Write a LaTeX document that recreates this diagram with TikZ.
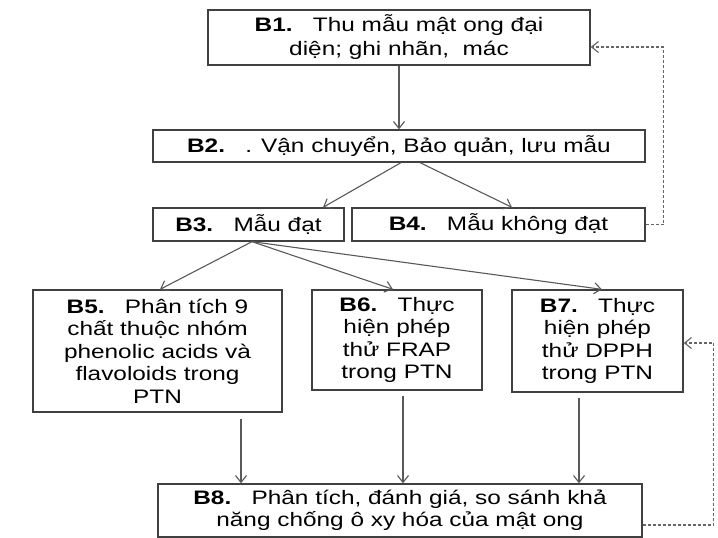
\documentclass[tikz,border=0pt]{standalone}
\usepackage{fontspec}
\setmainfont{Liberation Sans}[FakeStretch=1.25]
\usetikzlibrary{arrows.meta}

\tikzset{
  buoc/.style={draw=black!75, line width=1.3pt, fill=white, inner sep=0pt,
    align=center, font=\fontsize{19.5}{22.5}\selectfont},
  muiten/.style={draw=black!65, line width=1.1pt,
    -{Straight Barb[length=7pt, width=11pt, line width=1.1pt]}},
  quaylai/.style={muiten, draw=black!60, dashed, dash pattern=on 3pt off 2pt, line width=1.1pt}
}
\newcommand{\bx}[1]{\textbf{#1}}

\begin{document}
\begin{tikzpicture}[x=1pt, y=-1pt, line cap=butt, line join=miter]

\useasboundingbox (0,0) rectangle (718,538);

% các bước
\node[buoc, minimum width=382pt, minimum height=55pt,
  font=\fontsize{19.5}{24}\selectfont] (b1) at (399,37.5)
  {\bx{B1.}\ \ \ Thu mẫu mật ong đại\\diện; ghi nhãn,\ \ mác};
\node[buoc, minimum width=492pt, minimum height=32pt] (b2) at (399,146)
  {\bx{B2.}\ \ \ . Vận chuyển, Bảo quản, lưu mẫu};

\node[buoc, minimum width=191pt, minimum height=33pt] (b3) at (248.5,224.5)
  {\bx{B3.}\ \ \ Mẫu đạt};
\node[buoc, minimum width=293pt, minimum height=33pt] (b4) at (498.5,224.5)
  {\bx{B4.}\ \ \ Mẫu không đạt};

\node[buoc, minimum width=249pt, minimum height=122pt] (b5) at (157.5,351)
  {\bx{B5.}\ \ \ Phân tích 9\\chất thuộc nhóm\\phenolic acids và\\flavoloids trong\\PTN};
\node[buoc, minimum width=170pt, minimum height=100pt] (b6) at (397,340)
  {\bx{B6.}\ \ \ Thực\\hiện phép\\thử FRAP\\trong PTN};
\node[buoc, minimum width=171pt, minimum height=102pt] (b7) at (597.5,341)
  {\bx{B7.}\ \ \ Thực\\hiện phép\\thử DPPH\\trong PTN};

\node[buoc, minimum width=484pt, minimum height=53pt] (b8) at (400,510.5)
  {\bx{B8.}\ \ \ Phân tích, đánh giá, so sánh khả\\năng chống ô xy hóa của mật ong};

% mũi tên chính
\draw[muiten] (b1) -- (b2);
\draw[muiten] ([xshift=2pt]b2.south) -- ([xshift=74.5pt]b3.north);
\draw[muiten] ([xshift=21pt]b2.south) -- ([xshift=13.5pt]b4.north);

\draw[muiten] ([xshift=3.5pt]b3.south) -- ([xshift=2.5pt]b5.north);
\draw[muiten] ([xshift=3.5pt]b3.south) -- ([xshift=-4pt]b6.north);
\draw[muiten] ([xshift=3.5pt]b3.south) -- ([xshift=4.5pt]b7.north);

\draw[muiten] ([xshift=83.5pt,yshift=-6pt]b5.south) -- ([xshift=83.5pt]b5.south |- b8.north);
\draw[muiten] ([xshift=6pt,yshift=-5pt]b6.south) -- ([xshift=6pt]b6.south |- b8.north);
\draw[muiten] ([xshift=-18.5pt,yshift=-5pt]b7.south) -- ([xshift=-18.5pt]b7.south |- b8.north);

% quay lại (nét đứt)
\draw[quaylai] (b4.east) -- ++(18,0) |- ([yshift=-9.5pt]b1.east);
\draw[quaylai] ([yshift=-14.5pt]b8.east) -- ++(71,0) |- ([yshift=-2pt]b7.east);

\end{tikzpicture}
\end{document}
